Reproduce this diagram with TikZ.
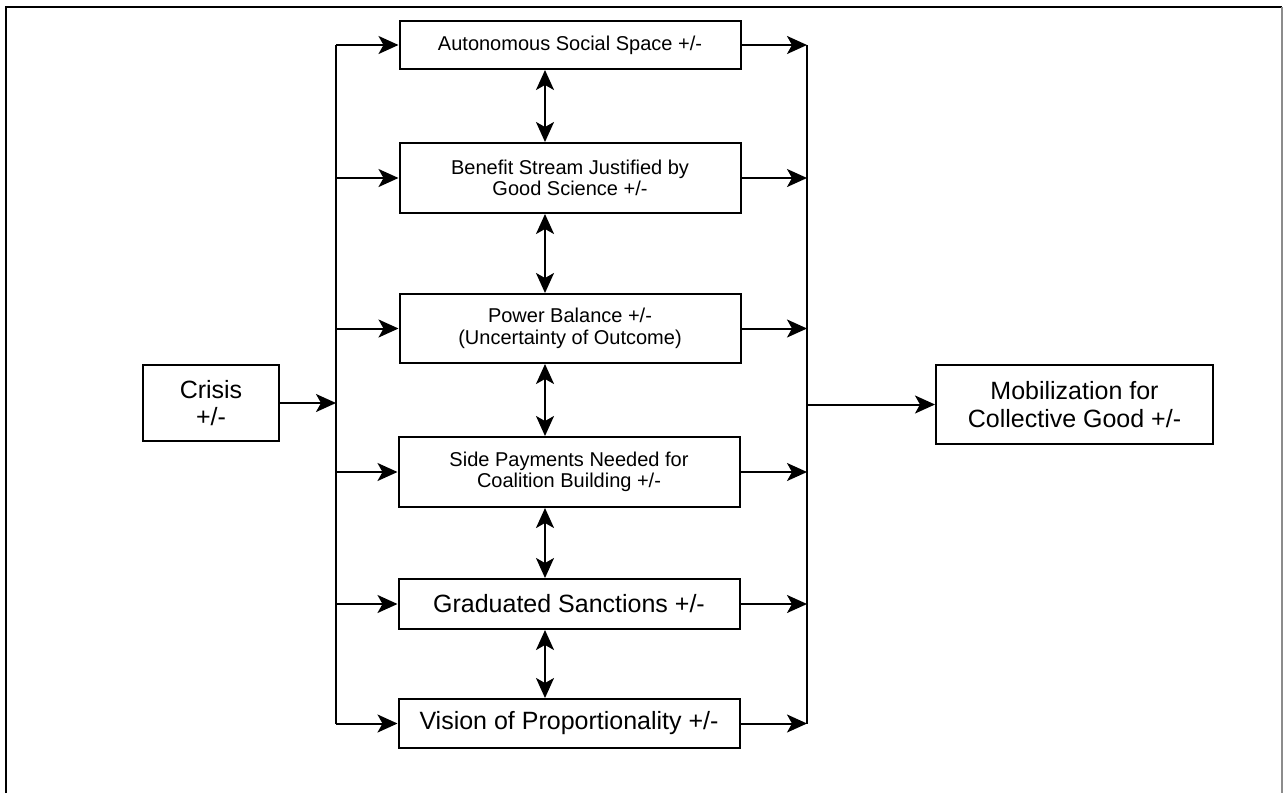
\documentclass[tikz,border=0pt]{standalone}
\usepackage{fontspec}
\setmainfont{Liberation Sans}
\usetikzlibrary{arrows.meta}

\begin{document}
\begin{tikzpicture}
  [x=0.5pt,y=-0.5pt,line width=1pt,
   >={Stealth[length=10pt,width=9pt,inset=2.5pt]},
   every node/.style={draw,rectangle,align=center,inner sep=0pt},
   small/.style={font=\fontsize{10}{10.7}\selectfont},
   large/.style={font=\fontsize{12.5}{13.8}\selectfont},
   mid/.style={minimum width=170.5pt}]

  \useasboundingbox (0,0) rectangle (1283,793);
  % frame
  \draw[line width=0.6pt] (6,793) -- (6,7) -- (1282,7);
  \draw[line width=0.6pt,black!45] (1282,7) -- (1282,793);

  \node [large,minimum width=68pt,minimum height=38pt] (crisis) at (211,403) {Crisis\\+/-};

  \node [small,mid,minimum height=24pt] (auto) at (570,45) {Autonomous Social Space +/-};
  \node [small,mid,minimum height=35pt] (bene) at (570,178) {Benefit Stream Justified by\\Good Science +/-};
  \node [small,mid,minimum height=34.5pt] (power) at (570,328.5) {Power Balance +/-\\(Uncertainty of Outcome)};
  \node [small,mid,minimum height=35pt] (side) at (569,472) {Side Payments Needed for\\Coalition Building +/-};
  \node [large,mid,minimum height=25pt] (grad) at (569,604) {Graduated Sanctions +/-};
  \node [large,mid,minimum height=24.5pt] (vis) at (569,723.5) {Vision of Proportionality +/-};

  \node [large,minimum width=138.5pt,minimum height=39.5pt] (mob) at (1074.5,404.5) {Mobilization for\\Collective Good +/-};

  \coordinate (lbus) at (336,0);
  \coordinate (rbus) at (807,0);
  \coordinate (dv) at (545,0);

  % buses
  \draw (auto.west -| lbus) -- (vis.west -| lbus);
  \draw (auto.east -| rbus) -- (vis.east -| rbus);
  \draw[->] (crisis.east) -- (crisis.east -| lbus);
  \draw[->] (mob.west -| rbus) -- (mob.west);

  \foreach \b in {auto,bene,power,side,grad,vis} {
    \draw[->] (\b.west -| lbus) -- (\b.west);
    \draw[->] (\b.east) -- (\b.east -| rbus);
  }
  \foreach \a/\b in {auto/bene,bene/power,power/side,side/grad,grad/vis}
    \draw[<->] (\a.south -| dv) -- (\b.north -| dv);
\end{tikzpicture}
\end{document}
